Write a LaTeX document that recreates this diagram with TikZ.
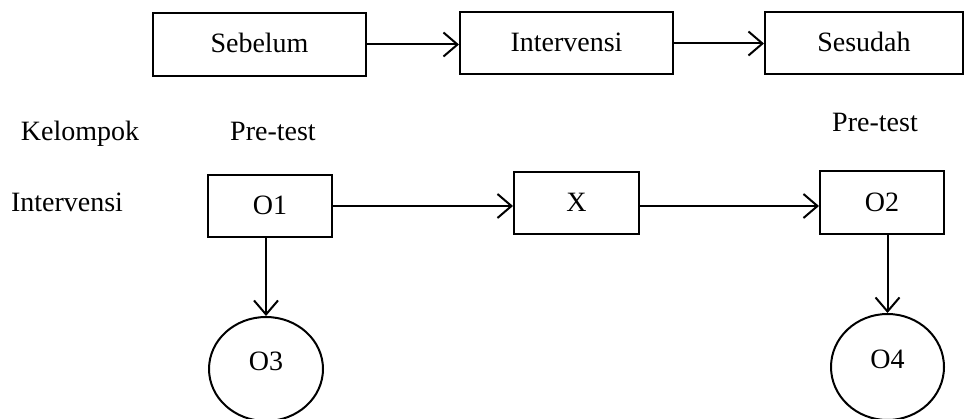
\documentclass[tikz,border=0pt]{standalone}
\usepackage{fontspec}
\setmainfont{Liberation Serif}
\usetikzlibrary{arrows.meta,shapes.geometric}
\begin{document}
\begin{tikzpicture}[x=1pt,y=-1pt,
  every node/.style={font=\fontsize{28}{32}\selectfont, inner sep=0pt, text height=19pt, text depth=2pt},
  box/.style={draw, line width=2pt, rectangle},
  oval/.style={draw, line width=2pt, ellipse, text depth=16pt},
  conn/.style={line width=2pt, -{Straight Barb[length=14pt,width=24pt,line width=2pt]}}]
\useasboundingbox (0,0) rectangle (966,419);
\node[box, minimum width=213pt, minimum height=63pt] (seb) at (259.5,44.5) {Sebelum};
\node[box, minimum width=213pt, minimum height=62pt] (int) at (566.5,43.5) {Intervensi};
\node[box, minimum width=198pt, minimum height=62pt] (ses) at (864,43.5) {Sesudah};
\node (kel) at (80,132) {Kelompok};
\node (pre1) at (273,132) {Pre-test};
\node (pre2) at (875,123) {Pre-test};
\node (intl) at (67,203) {Intervensi};
\node[box, minimum width=124pt, minimum height=62pt] (o1) at (270,206) {O1};
\node[box, minimum width=125pt, minimum height=62pt] (x) at (576.5,203) {X};
\node[box, minimum width=124pt, minimum height=63pt] (o2) at (882,203) {O2};
\node[oval, minimum width=114pt, minimum height=104pt] (o3) at (266,369) {O3};
\node[oval, minimum width=113pt, minimum height=106pt] (o4) at (887.5,367) {O4};
\draw[conn] (seb.east) -- (int.west |- seb.east);
\draw[conn] (int.east) -- (ses.west);
\draw[conn] (o1.east) -- (x.west |- o1.east);
\draw[conn] (x.east |- o1.east) -- (o2.west |- o1.east);
\draw[conn] (o3.north |- o1.south) -- (o3.north);
\draw[conn] (o4.north |- o2.south) -- (o4.north);
\end{tikzpicture}
\end{document}
